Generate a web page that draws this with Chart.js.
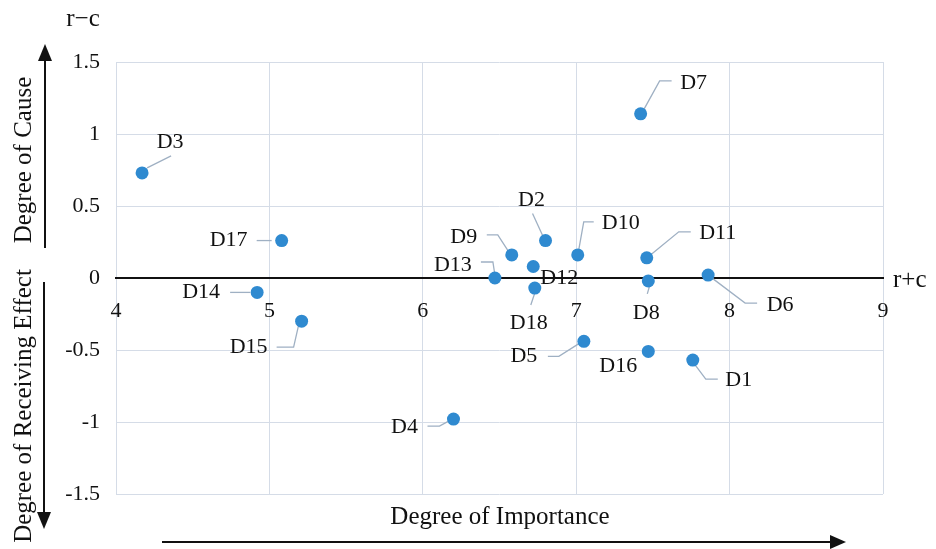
<!DOCTYPE html>
<html>
<head>
<meta charset="utf-8">
<script src="https://cdn.jsdelivr.net/npm/chart.js@4/dist/chart.umd.min.js"></script>
<style>
  html, body { margin: 0; padding: 0; background: #fff; }
  #wrap { width: 936px; height: 549px; position: relative; }
</style>
</head>
<body>
<div id="wrap"><canvas id="ch"></canvas></div>
<script>
// factors D1..D18: prominence (r+c) and relation (r-c)
var names = ["D1", "D2", "D3", "D4", "D5", "D6", "D7", "D8", "D9", "D10", "D11", "D12", "D13", "D14", "D15", "D16", "D17", "D18"];
var rPlusC = [7.76, 6.80, 4.17, 6.20, 7.05, 7.86, 7.42, 7.47, 6.58, 7.01, 7.46, 6.72, 6.47, 4.92, 5.21, 7.47, 5.08, 6.73];
var rMinusC = [-0.57, 0.26, 0.73, -0.98, -0.44, 0.02, 1.14, -0.02, 0.16, 0.16, 0.14, 0.08, 0.00, -0.10, -0.30, -0.51, 0.26, -0.07];
var xTicks = [4, 5, 6, 7, 8, 9];
var yTicks = [-1.5, -1, -0.5, 0, 0.5, 1, 1.5];

// label placement: label centre offset + leader polyline (px from the point)
var labelLayout = {
  D1:  { at: [46, 20],  lead: [[1, 3], [13, 19], [25, 19]] },
  D2:  { at: [-14, -40], lead: [[-2, -3], [-13, -27]] },
  D3:  { at: [28, -31], lead: [[5, -5], [29, -17]] },
  D4:  { at: [-49, 8],  lead: [[-3, 1], [-14, 7], [-26, 7]] },
  D5:  { at: [-60, 15], lead: [[-3, 1], [-25, 15], [-36, 15]] },
  D6:  { at: [72, 30],  lead: [[4, 3], [37, 28], [49, 28]] },
  D7:  { at: [53, -31], lead: [[3, -4], [19, -33], [31, -33]] },
  D8:  { at: [-2, 32],  lead: [[1, 6], [-1, 13]] },
  D9:  { at: [-48, -18], lead: [[-3, -3], [-14, -20], [-25, -20]] },
  D10: { at: [43, -32], lead: [[1, -5], [6, -33], [16, -33]] },
  D11: { at: [71, -25], lead: [[4, -3], [32, -26], [44, -26]] },
  D12: { at: [26, 12],  lead: null },
  D13: { at: [-42, -13], lead: [[0, -3], [-2, -16], [-14, -16]] },
  D14: { at: [-56, 0],  lead: [[-7, 0], [-27, 0]] },
  D15: { at: [-53, 26], lead: [[-3, 4], [-8, 26], [-25, 26]] },
  D16: { at: [-30, 15], lead: null },
  D17: { at: [-53, 0],  lead: [[-10, 0], [-25, 0]] },
  D18: { at: [-6, 35],  lead: [[0, 5], [-4, 17]] }
};

var SERIF = "'Liberation Serif', 'Times New Roman', serif";
var INK = "#111111", GRID = "#d5dce7", DOT = "#2f8ad0", LEAD = "#9fb0c3";

var pts = names.map(function (n, i) { return { x: rPlusC[i], y: rMinusC[i] }; });

var pointLabels = {
  id: "pointLabels",
  beforeDatasetsDraw: function (chart) {
    var ctx = chart.ctx, meta = chart.getDatasetMeta(0);
    ctx.save();
    ctx.strokeStyle = LEAD; ctx.lineWidth = 1.3;
    meta.data.forEach(function (el, i) {
      var L = labelLayout[names[i]];
      if (!L || !L.lead) return;
      ctx.beginPath();
      L.lead.forEach(function (p, j) {
        if (j === 0) ctx.moveTo(el.x + p[0], el.y + p[1]); else ctx.lineTo(el.x + p[0], el.y + p[1]);
      });
      ctx.stroke();
    });
    ctx.restore();
  },
  afterDatasetsDraw: function (chart) {
    var ctx = chart.ctx, meta = chart.getDatasetMeta(0);
    ctx.save();
    ctx.fillStyle = INK; ctx.font = "22px " + SERIF;
    ctx.textAlign = "center"; ctx.textBaseline = "middle";
    meta.data.forEach(function (el, i) {
      var L = labelLayout[names[i]];
      ctx.fillText(names[i], el.x + L.at[0], el.y + L.at[1]);
    });
    ctx.restore();
  }
};

function arrow(ctx, x1, y1, x2, y2, head, half) {
  var a = Math.atan2(y2 - y1, x2 - x1);
  var bx = x2 - head * Math.cos(a), by = y2 - head * Math.sin(a);
  ctx.beginPath(); ctx.moveTo(x1, y1); ctx.lineTo(bx, by); ctx.stroke();
  ctx.beginPath();
  ctx.moveTo(x2, y2);
  ctx.lineTo(bx + half * Math.sin(a), by - half * Math.cos(a));
  ctx.lineTo(bx - half * Math.sin(a), by + half * Math.cos(a));
  ctx.closePath(); ctx.fill();
}

var decor = {
  id: "decor",
  afterDraw: function (chart) {
    var ctx = chart.ctx, a = chart.chartArea;
    var y0 = chart.scales.y.getPixelForValue(0);
    ctx.save();
    ctx.fillStyle = INK; ctx.strokeStyle = INK; ctx.lineWidth = 2;
    ctx.font = "25px " + SERIF; ctx.textBaseline = "middle";
    ctx.textAlign = "center";
    ctx.fillText("r\u2212c", 83, 19);
    ctx.textAlign = "left";
    ctx.fillText("r+c", a.right + 10, y0 + 2);
    ctx.textAlign = "center";
    ctx.fillText("Degree of Importance", 500, 517);

    ctx.save();
    ctx.translate(24, 160); ctx.rotate(-Math.PI / 2);
    ctx.fillText("Degree of Cause", 0, 0);
    ctx.restore();
    ctx.save();
    ctx.translate(24, 406); ctx.rotate(-Math.PI / 2);
    ctx.fillText("Degree of Receiving Effect", 0, 0);
    ctx.restore();

    arrow(ctx, 45, 248, 45, 44, 17, 7);
    arrow(ctx, 44, 282, 44, 529, 17, 7);
    arrow(ctx, 162, 542, 846, 542, 16, 7);
    ctx.restore();
  }
};

new Chart(document.getElementById("ch"), {
  type: "scatter",
  data: {
    datasets: [{
      data: pts,
      backgroundColor: DOT, borderColor: DOT, borderWidth: 0,
      pointRadius: 6.5, pointHoverRadius: 6.5
    }]
  },
  options: {
    responsive: true, maintainAspectRatio: false, animation: false,
    layout: { padding: { left: 0, top: 62, right: 53, bottom: 55 } },
    plugins: { legend: { display: false }, tooltip: { enabled: false } },
    scales: {
      x: {
        type: "linear", min: 4, max: 9, position: { y: 0 },
        afterBuildTicks: function (s) { s.ticks = xTicks.map(function (v) { return { value: v }; }); },
        grid: { color: GRID, lineWidth: 1, drawTicks: false },
        border: { display: true, color: INK, width: 2 },
        ticks: { color: INK, padding: 20, font: { family: SERIF, size: 22 }, callback: function (v) { return String(v); } }
      },
      y: {
        type: "linear", min: -1.5, max: 1.5,
        afterBuildTicks: function (s) { s.ticks = yTicks.map(function (v) { return { value: v }; }); },
        afterFit: function (s) { s.width = 116; },
        grid: { color: function (c) { return c.tick && c.tick.value === 0 ? "rgba(0,0,0,0)" : GRID; }, lineWidth: 1, drawTicks: false },
        border: { display: false },
        ticks: { color: INK, padding: 16, font: { family: SERIF, size: 22 }, callback: function (v) { return String(v); } }
      }
    }
  },
  plugins: [pointLabels, decor]
});
</script>
</body>
</html>
